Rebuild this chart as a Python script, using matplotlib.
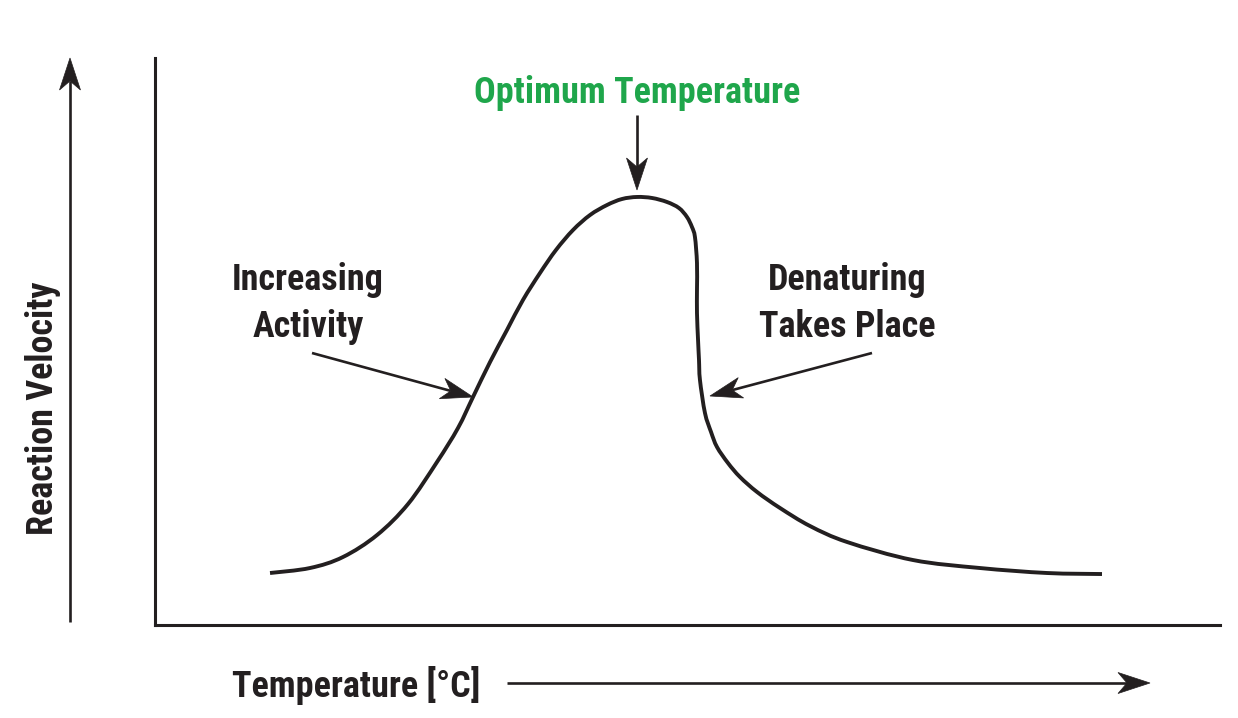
import matplotlib
matplotlib.use('Agg')
import matplotlib.pyplot as plt
from matplotlib import font_manager
from matplotlib.patches import Polygon, PathPatch
from matplotlib.path import Path
import numpy as np

# enzyme activity curve (arbitrary units, 0-100 on both axes)
temperature = [10.80, 14.55, 17.65, 20.85, 23.76, 26.48, 28.45, 29.86, 31.46, 33.05,
               34.55, 36.15, 37.65, 39.25, 40.85, 42.44, 43.85, 45.26, 46.67, 48.08,
               49.20, 49.95, 50.42, 50.70, 50.89, 50.89, 50.89, 50.99, 51.08, 51.17,
               51.64, 52.21, 52.77, 53.80, 54.93, 56.53, 58.69, 61.50, 64.98, 71.17,
               77.46, 83.76, 88.92]
velocity = [9.17, 10.05, 11.99, 15.87, 21.34, 28.75, 34.74, 40.21, 46.38, 52.03,
            57.32, 62.08, 66.14, 69.66, 72.31, 74.07, 75.13, 75.49, 75.31, 74.60,
            73.54, 71.96, 70.19, 68.43, 63.84, 59.08, 55.03, 50.26, 46.74, 43.21,
            37.39, 34.04, 31.39, 28.57, 26.10, 23.46, 20.63, 17.46, 14.64, 11.46,
            10.05, 9.17, 8.99]

INK = '#231f20'
GREEN = '#1fa64b'

W, H = 1238, 718
fig = plt.figure(figsize=(W / 100, H / 100), dpi=100)
fig.patch.set_facecolor('white')

names = {f.name for f in font_manager.fontManager.ttflist}
FONT = next((n for n in ['Roboto Condensed', 'Liberation Sans Narrow', 'Liberation Sans']
             if n in names), 'DejaVu Sans')
FS = 26
WT = 'bold'

# plot box
ax = fig.add_axes([155 / W, 1 - 625 / H, (1220 - 155) / W, (625 - 58) / H])
ax.set_xlim(0, 100)
ax.set_ylim(0, 100)
ax.patch.set_alpha(0)
for s in ['top', 'right']:
    ax.spines[s].set_visible(False)
for s in ['left', 'bottom']:
    ax.spines[s].set_linewidth(2.2)
    ax.spines[s].set_color(INK)
ax.set_xticks([])
ax.set_yticks([])

# smooth curve through the read points (Catmull-Rom as cubic Bezier segments)
pts = np.column_stack([temperature, velocity])
ext = np.vstack([pts[0], pts, pts[-1]])
verts = [pts[0]]
codes = [Path.MOVETO]
for i in range(1, len(ext) - 2):
    p0, p1, p2, p3 = ext[i - 1], ext[i], ext[i + 1], ext[i + 2]
    verts += [p1 + (p2 - p0) / 6, p2 - (p3 - p1) / 6, p2]
    codes += [Path.CURVE4] * 3
ax.add_patch(PathPatch(Path(verts, codes), fc='none', ec=INK, lw=2.8,
                       joinstyle='round', capstyle='butt'))

# overlay in pixel coords for labels and arrows
ov = fig.add_axes([0, 0, 1, 1])
ov.set_xlim(0, W)
ov.set_ylim(H, 0)
ov.axis('off')


def arrow(x1, y1, x2, y2, L=32, wd=21, notch=9, lw=1.9):
    d = np.array([x2 - x1, y2 - y1], float)
    u = d / np.hypot(*d)
    p = np.array([-u[1], u[0]])
    tip = np.array([x2, y2], float)
    back = tip - L * u
    mid = tip - (L - notch) * u
    ov.plot([x1, mid[0]], [y1, mid[1]], color=INK, lw=lw, solid_capstyle='butt')
    ov.add_patch(Polygon([tip, back + wd / 2 * p, mid, back - wd / 2 * p],
                         closed=True, fc=INK, ec=INK, lw=0.5))


def label(x, y, s, color=INK, **kw):
    ov.text(x, y, s, fontsize=FS, family=FONT, weight=WT, color=color,
            ha='center', va='baseline', **kw)


# axis arrows
arrow(70, 622, 70, 58)
arrow(507, 683, 1150, 683)
ov.text(43, 408, 'Reaction Velocity', fontsize=FS, family=FONT, weight=WT, color=INK,
        rotation=90, ha='center', va='center')
ov.text(232, 697, 'Temperature [°C]', fontsize=FS, family=FONT, weight=WT, color=INK,
        ha='left', va='baseline')

# annotations
label(637, 103, 'Optimum Temperature', color=GREEN)
arrow(637, 115, 637, 190)

label(308, 290, 'Increasing')
label(308, 337, 'Activity')
arrow(312, 353, 473, 397)

label(847, 290, 'Denaturing')
label(847, 337, 'Takes Place')
arrow(872, 353, 710, 396)

fig.savefig('out.png', dpi=100, facecolor='white')
